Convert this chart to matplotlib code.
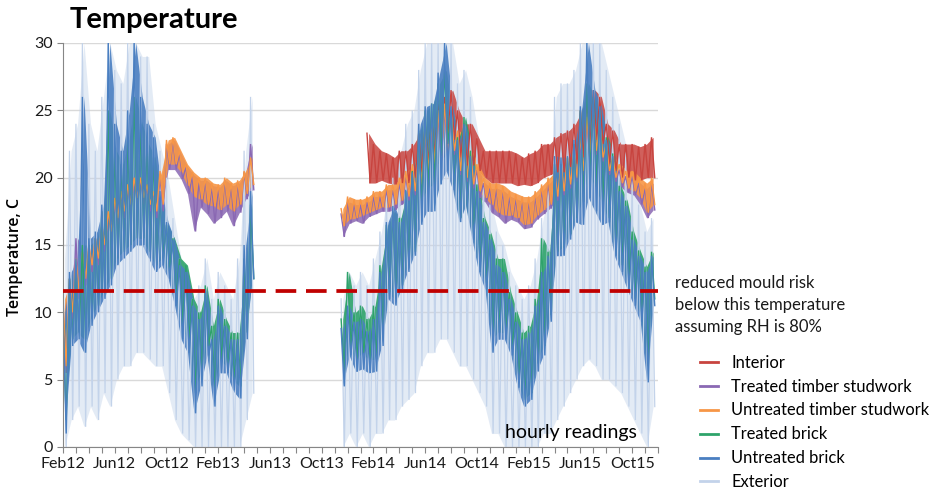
import numpy as np
import matplotlib
matplotlib.use('Agg')
import matplotlib.pyplot as plt
from matplotlib.lines import Line2D

plt.rcParams['font.family'] = ['Lato', 'DejaVu Sans']

nan = np.nan

# x axis: months since Feb 2012, readings summarised every half month (high / low)
month_labels = ['Feb12', 'Jun12', 'Oct12', 'Feb13', 'Jun13', 'Oct13',
                'Feb14', 'Jun14', 'Oct14', 'Feb15', 'Jun15', 'Oct15']
t1 = np.arange(0, 15, 0.5)      # Feb12 .. May13
t2 = np.arange(21.5, 46, 0.5)   # mid Nov13 .. Nov15

mould_threshold = 11.6

# ---- first period (Feb12 - May13) ----
ubrick_hi_1 = [10, 13, 14, 26, 15.5, 16, 18, 30, 24, 22, 25, 30, 26, 24, 23, 19,
               16.7, 15.4, 13.5, 13, 10.5, 9.5, 11.7, 8, 10.5, 9, 8, 8, 15, 19]
ubrick_lo_1 = [1, 7.5, 8, 7, 9, 10, 11, 12, 13.5, 14, 14.5, 15, 15, 14, 13, 13.5,
               12.5, 10.5, 8, 7, 2.5, 4.5, 6.8, 3, 5.5, 5.5, 4.2, 3.6, 8, 12.5]
tbrick_hi_1 = [9, 12.5, 13.5, 15, 15, 15.5, 17.5, 25, 22, 21, 23, 26, 24, 22.5, 21.5,
               18.5, 16.5, 15.5, 14, 13.5, 11, 10, 12, 9, 11, 9.5, 8.5, 8.5, 14, 18]
tbrick_lo_1 = [2, 8, 8.5, 8, 9.5, 10.5, 11.5, 12.5, 14, 14.5, 15, 15.5, 15.5, 14.5,
               13.5, 14, 13, 11, 9, 8, 4, 5.5, 7.5, 4, 6.5, 6, 5, 4.5, 8.5, 12.5]
ext_hi_1 = [14, 22, 24, 30, 24, 22, 26, 30, 28, 27, 30, 30, 29, 29, 24, 22,
            20, 17, 14, 13, 11, 12, 14, 11, 13, 12, 11, 14, 22, 26]
ext_lo_1 = [0, 2, 3, 1.5, 3, 2, 4, 3, 5, 6, 6, 7, 7, 6.5, 6, 6,
            4, 2, 1, 0.5, 0, 0, 0, 0, 0, 0, 0, 0, 2, 4]
utimber_hi_1 = [11, 12.5, 14, 14.5, 15, 15.5, 16.5, 17.5, 18.5, 19, 19.5, 20, 20, 19.5,
                19, 20.5, 22.8, 23, 22, 21, 20.4, 20, 20, 19.6, 19.5, 20, 19.6, 19.8,
                20.5, 21.5]
utimber_lo_1 = [6, 10, 11.5, 12.5, 13.5, 14, 15, 16, 17, 17.5, 18, 18.5, 18.5, 18,
                17.5, 18, 21, 21, 20.4, 19.4, 18.6, 18.4, 18, 17.9, 17.6, 18, 17.5, 18,
                18.8, 19.5]
ttimber_hi_1 = [10.5, 12.5, 15.5, 14.5, 15, 15.5, 16.5, 17.5, 18.5, 19, 19.5, 20, 20,
                19.5, 19, 20, 22.5, 22.8, 21.8, 20.8, 20.2, 19.8, 19.8, 19.4, 19.3, 19.8,
                19.4, 19.6, 20.4, 22.5]
ttimber_lo_1 = [5.5, 9.5, 11, 12, 13, 13.5, 14.5, 15.5, 16.5, 17, 17.5, 18, 18, 17.5,
                17, 17.5, 20.6, 20.6, 19.9, 18.8, 16, 17.8, 17.3, 16.6, 17, 17.5, 16.4,
                17.4, 18.4, 19.1]

# ---- second period (Nov13 - Nov15) ----
ubrick_hi_2 = [8.8, 10.5, 9.3, 9.5, 8.6, 9.5, 13, 16.7, 17.9, 16.7, 19.1, 20.4, 24, 25.3,
               25.5, 27.8, 30, 25.3, 22.8, 24, 21.6, 19, 16.7, 15.4, 13.5, 13, 11, 9.3, 8,
               8.5, 10.5, 13, 14.2, 21.6, 21.5, 21.6, 22.8, 25.3, 30, 26.5, 25.3, 22.8,
               21.6, 19, 17.9, 15.4, 14.2, 13, 14.2]
ubrick_lo_2 = [4.5, 6.8, 5.6, 5.8, 5.5, 5.6, 7.5, 11, 10.5, 11.7, 13, 14.2, 16.5, 17.5,
               17.5, 19.5, 20.5, 19.1, 16.7, 17.9, 15.4, 13, 11.7, 7, 8, 8, 6.8, 4.4, 3,
               3.5, 5.6, 6.8, 9.3, 14.2, 14.2, 15.4, 16.7, 16.5, 18.5, 17.5, 16.5, 16.7,
               14.2, 13, 11.7, 10.5, 9.3, 4.8, 10.5]
tbrick_hi_2 = [9.5, 13, 10, 10.5, 9.5, 10.5, 13.5, 16.5, 17.5, 17, 19, 20.5, 23.5, 25,
               25.5, 27, 28, 25, 23, 24.5, 22, 19.5, 17, 15.8, 14, 14, 11.5, 10, 8.5, 9,
               11, 15.5, 14.5, 21, 21, 21.5, 22.5, 25, 27, 26, 25, 23, 21.8, 19.4, 18.3,
               16, 14.6, 13.4, 14.5]
tbrick_lo_2 = [5.5, 7.5, 6.5, 7, 6.5, 6.5, 8.5, 11.5, 11, 12, 13.5, 14.5, 18, 19.2, 19.5,
               21.6, 22.5, 19.5, 17, 18, 15.8, 13.5, 12.2, 8, 8.5, 8.5, 7.3, 5, 3.5, 4,
               6.2, 7.5, 9.8, 14.5, 14.8, 15.8, 17, 18.2, 20.5, 19.3, 18.2, 17, 14.6,
               13.5, 12.2, 11, 9.8, 6, 11]
ext_hi_2 = [11, 13, 12, 13, 12, 14, 16, 19, 20, 22, 24, 25, 28, 30, 30, 30, 30, 30, 27,
            28, 26, 23, 20, 18, 16, 15, 13, 12, 11, 12, 14, 17, 19, 26, 27, 27, 28, 30,
            30, 30, 30, 28, 26, 24, 22, 20, 18, 16, 17]
ext_lo_2 = [0, 1, 0, 1, 0, 1, 1, 2, 2, 3, 3.5, 4, 6, 7, 7, 8, 8, 7, 6, 6, 5, 4, 3, 1, 1,
            0, 0, 0, 0, 0, 0, 1, 1, 2, 3, 4, 5, 6, 6.5, 6, 5, 5, 4.5, 4, 3, 2, 1, 0, 3]
interior_hi_2 = [nan, nan, nan, nan, 23.3, 22.5, 22, 21.8, 21.5, 22, 22, 22.5, 23.3, 24,
                 24.5, 25.5, 26, 26.5, 25, 24, 24, 23, 22, 22, 22, 22, 22, 21.8, 21.5,
                 21.8, 22, 22.5, 22.5, 23, 23.3, 23.5, 24, 25, 26, 26.5, 26, 24, 23.5,
                 22.5, 22.5, 22.5, 22.3, 22.5, 23]
interior_lo_2 = [nan, nan, nan, nan, 19.6, 19.6, 19.8, 19.6, 19.5, 19.6, 19.6, 20, 20.4,
                 21, 21.5, 22, 22.5, 22.8, 21.5, 20.9, 20.9, 20.5, 20, 19.6, 19.6, 19.6,
                 19.6, 19.4, 19.5, 19.4, 19.6, 20, 20.2, 20.4, 20.4, 20.8, 21, 21.5, 22,
                 22.8, 22.5, 21, 20.5, 20, 20, 19.8, 19.8, 20, 20]
utimber_hi_2 = [17.7, 18.6, 18.4, 18.4, 18.6, 19, 19, 19.5, 19.5, 20, 20.5, 21, 22, 23.5,
                24, 25, 25.5, 25, 23.5, 23, 22, 21, 20, 19.6, 19.6, 19.4, 19, 18.8, 18.6,
                18.6, 19, 19.5, 20, 20.5, 21, 21.5, 22, 23, 24.5, 25, 24, 22.5, 21.5, 21,
                20.5, 20.5, 20, 19.6, 20]
utimber_lo_2 = [16.4, 16.9, 17, 17.2, 17.4, 17.6, 17.8, 17.8, 18, 18.3, 18.6, 19, 19.5,
                20.5, 21, 21.5, 22, 22, 20.5, 20, 19.5, 19, 18.5, 18, 17.4, 17.2, 17.2, 17,
                16.5, 16.6, 17.2, 17.6, 18, 18.6, 19, 19.5, 20, 20.5, 21.5, 22, 21.5, 20.5,
                20, 19.6, 19.2, 19, 18.5, 17.4, 18]
ttimber_hi_2 = [17.3, 18.2, 18, 18, 18.2, 18.6, 18.6, 19.1, 19.1, 19.6, 20.1, 20.6, 21.6,
                23.1, 23.6, 24.6, 25, 24.6, 23.1, 22.6, 21.6, 20.6, 19.6, 19.2, 19.2, 19,
                18.6, 18.4, 18.2, 18.2, 18.6, 19.1, 19.6, 20.1, 20.6, 21.1, 21.6, 22.6,
                24.1, 24.6, 23.6, 22.1, 21.1, 20.6, 20.1, 20.1, 19.6, 19.2, 19.6]
ttimber_lo_2 = [15.6, 16.6, 16.8, 16.6, 17.1, 17.3, 17.5, 17.5, 17.6, 18, 18.3, 18.7,
                19.2, 20.2, 20.7, 21.2, 21.7, 21.7, 20.2, 19.7, 19.2, 18.5, 18.2, 17.4,
                17.1, 16.6, 16.9, 16.7, 16.2, 16.3, 16.9, 17.3, 17.7, 18.3, 18.7, 19.2,
                19.7, 20.2, 21.2, 21.7, 21.2, 20.2, 19.7, 19.3, 18.9, 18.7, 18, 17, 17.6]

colors = {
    'Interior': '#c8443f',
    'Treated timber studwork': '#8a68b3',
    'Untreated timber studwork': '#f79646',
    'Treated brick': '#2ea36a',
    'Untreated brick': '#4a7fc1',
    'Exterior': '#c3d3ea',
}


def zigzag(t, hi, lo):
    # hourly trace drawn as a saw line running between the highs and lows
    t = np.asarray(t, dtype=float)
    x = np.column_stack([t, t + 0.25]).ravel()
    y = np.column_stack([hi, lo]).ravel()
    return x, y


def draw_series(ax, name, t, hi, lo, lw, alpha):
    hi = np.asarray(hi, dtype=float)
    lo = np.asarray(lo, dtype=float)
    c = colors[name]
    # body of the dense hourly trace
    ax.fill_between(t + 0.125, lo, hi, color=c, alpha=alpha, lw=0)
    x, y = zigzag(t, hi, lo)
    ax.plot(x, y, color=c, lw=lw, solid_joinstyle='miter')


fig = plt.figure(figsize=(9.32, 4.92), dpi=100)
ax = fig.add_axes([63 / 932, 1 - 447 / 492, 595 / 932, 404 / 492])

draw_order = [
    ('Exterior', ext_hi_1, ext_lo_1, ext_hi_2, ext_lo_2, 0.9, 0.45),
    ('Interior', None, None, interior_hi_2, interior_lo_2, 1.0, 0.85),
    ('Treated timber studwork', ttimber_hi_1, ttimber_lo_1, ttimber_hi_2, ttimber_lo_2, 1.0, 0.85),
    ('Untreated timber studwork', utimber_hi_1, utimber_lo_1, utimber_hi_2, utimber_lo_2, 1.0, 0.9),
    ('Treated brick', tbrick_hi_1, tbrick_lo_1, tbrick_hi_2, tbrick_lo_2, 1.0, 0.9),
    ('Untreated brick', ubrick_hi_1, ubrick_lo_1, ubrick_hi_2, ubrick_lo_2, 1.0, 0.9),
]
for name, h1, l1, h2, l2, lw, alpha in draw_order:
    if h1 is not None:
        draw_series(ax, name, t1, h1, l1, lw, alpha)
    draw_series(ax, name, t2, h2, l2, lw, alpha)

ax.axhline(mould_threshold, color='#c00000', lw=2.7, dashes=(5.5, 2.6), zorder=5)

ax.set_xlim(0, 46)
ax.set_ylim(0, 30)
ax.set_xticks(np.arange(0, 48, 4))
ax.set_xticklabels(month_labels)
ax.set_xticks(np.arange(0, 47, 1), minor=True)
ax.set_yticks(np.arange(0, 31, 5))
ax.tick_params(axis='both', which='both', direction='out', length=4, width=0.8,
               color='#868686', labelsize=11.5, labelcolor='#1a1a1a')
ax.grid(axis='y', color='#d9d9d9', lw=1)
ax.set_axisbelow(True)
for s in ['top', 'right']:
    ax.spines[s].set_visible(False)
for s in ['left', 'bottom']:
    ax.spines[s].set_color('#868686')

ax.set_ylabel('Temperature, C', fontsize=11.5, family=['Open Sans', 'DejaVu Sans'],
              fontweight='semibold')
ax.yaxis.set_label_coords(-0.067, 0.47)
fig.text(70 / 932, 1 - 20 / 492, 'Temperature', fontsize=21, fontweight='bold',
         va='center', ha='left')
ax.text(0.743, 0.037, 'hourly readings', transform=ax.transAxes, fontsize=14,
        va='center', ha='left')

fig.text(675 / 932, 1 - 305 / 492,
         'reduced mould risk\nbelow this temperature\nassuming RH is 80%',
         fontsize=12, va='center', ha='left', linespacing=1.48, color='#1a1a1a')

legend_names = ['Interior', 'Treated timber studwork', 'Untreated timber studwork',
                'Treated brick', 'Untreated brick', 'Exterior']
handles = [Line2D([], [], color=colors[n], lw=2) for n in legend_names]
fig.legend(handles, legend_names, loc='upper left',
           bbox_to_anchor=(693 / 932, 1 - 348 / 492), frameon=False, fontsize=11.9,
           handlelength=1.1, handletextpad=0.8, labelspacing=0.48, borderaxespad=0)

fig.savefig('out.png', dpi=100)
